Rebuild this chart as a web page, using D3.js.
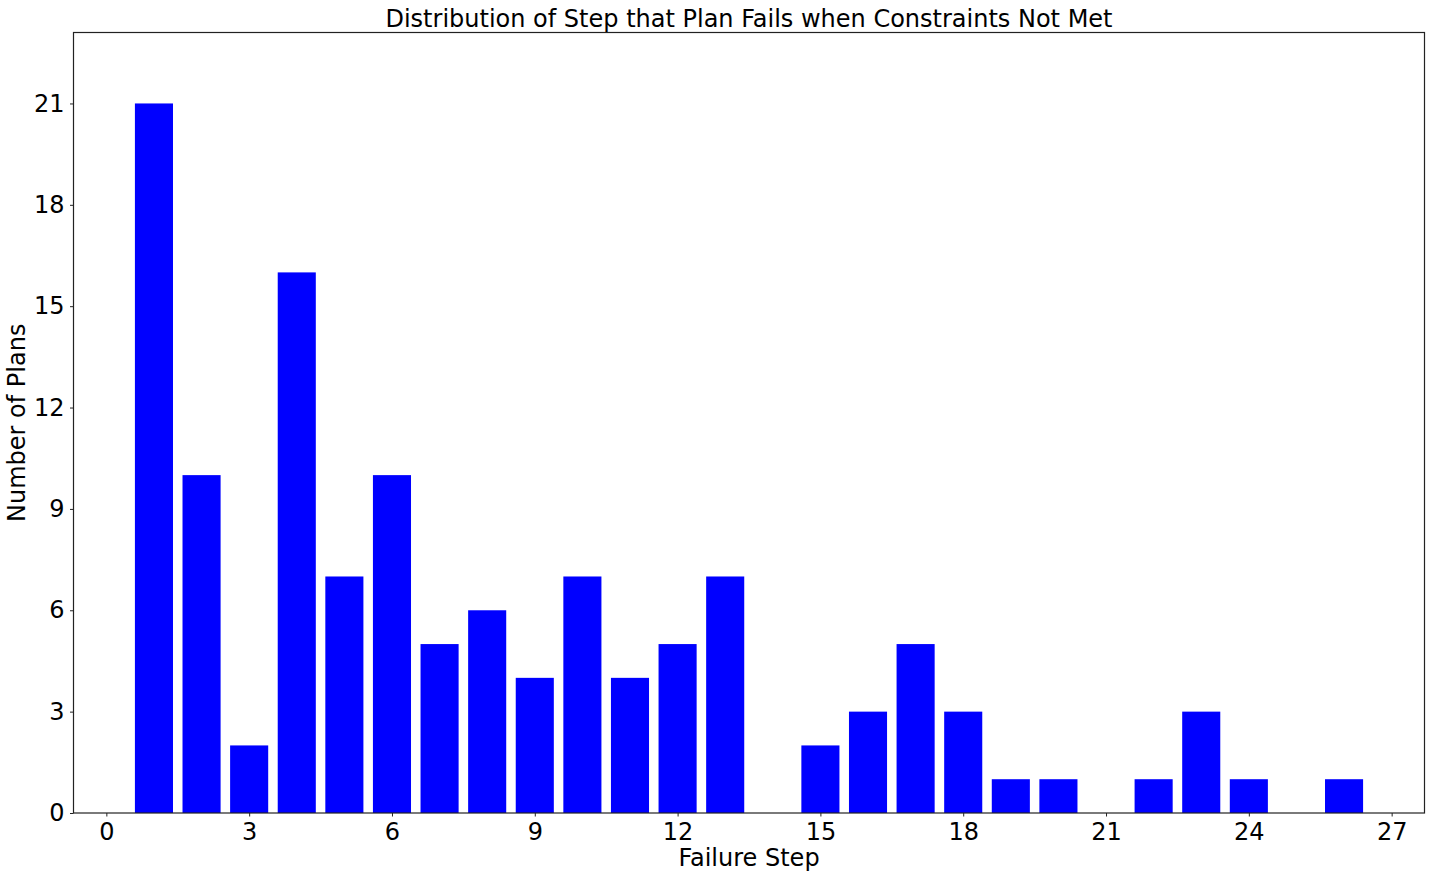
<!DOCTYPE html>
<html>
<head>
<meta charset="utf-8">
<script src="https://cdn.jsdelivr.net/npm/d3@7"></script>
<style>
  body { margin: 0; background: #fff; }
  text { font-family: "DejaVu Sans", sans-serif; }
</style>
</head>
<body>
<div id="chart"></div>
<script>
// failure step -> number of plans
const steps = [1, 2, 3, 4, 5, 6, 7, 8, 9, 10, 11, 12, 13, 14, 15, 16, 17, 18, 19, 20, 21, 22, 23, 24, 25, 26];
const counts = [21, 10, 2, 16, 7, 10, 5, 6, 4, 7, 4, 5, 7, 0, 2, 3, 5, 3, 1, 1, 0, 1, 3, 1, 0, 1];
const xTicks = [0, 3, 6, 9, 12, 15, 18, 21, 24, 27];
const yTicks = [0, 3, 6, 9, 12, 15, 18, 21];

const w = 1431, h = 879;
const margin = { left: 73.5, right: 6.5, top: 32.5, bottom: 66 };
const barWidth = 0.8;
const fontSize = "24px";

const svg = d3.select("#chart").append("svg")
  .attr("width", w)
  .attr("height", h)
  .style("display", "block");

// matplotlib-like 5% margins around the bars
const lo = steps[0] - barWidth / 2, hi = steps[steps.length - 1] + barWidth / 2;
const pad = (hi - lo) * 0.05;
const x = d3.scaleLinear()
  .domain([lo - pad, hi + pad])
  .range([margin.left, w - margin.right]);

const y = d3.scaleLinear()
  .domain([0, d3.max(counts) * 1.1])
  .range([h - margin.bottom, margin.top]);

// bars
svg.append("g")
  .selectAll("rect")
  .data(steps.map((s, i) => ({ s, c: counts[i] })))
  .join("rect")
  .attr("x", d => x(d.s - barWidth / 2))
  .attr("width", d => x(d.s + barWidth / 2) - x(d.s - barWidth / 2))
  .attr("y", d => y(d.c))
  .attr("height", d => y(0) - y(d.c))
  .attr("fill", "#0000ff");

// axes
const xAxis = svg.append("g")
  .attr("transform", `translate(0,${h - margin.bottom})`)
  .call(d3.axisBottom(x).tickValues(xTicks).tickSize(3.5).tickPadding(6).tickSizeOuter(0));

const yAxis = svg.append("g")
  .attr("transform", `translate(${margin.left},0)`)
  .call(d3.axisLeft(y).tickValues(yTicks).tickSize(3.5).tickPadding(5.5).tickSizeOuter(0));

[xAxis, yAxis].forEach(g => {
  g.select(".domain").remove();
  g.selectAll("line").attr("stroke", "#222").attr("stroke-width", 1);
  g.selectAll("text")
    .style("font-family", "DejaVu Sans")
    .style("font-size", fontSize)
    .attr("fill", "#000");
});

// frame
svg.append("rect")
  .attr("x", margin.left)
  .attr("y", margin.top)
  .attr("width", w - margin.left - margin.right)
  .attr("height", h - margin.top - margin.bottom)
  .attr("fill", "none")
  .attr("stroke", "#222")
  .attr("stroke-width", 1.2);

// Title
svg.append("text")
  .attr("x", (margin.left + w - margin.right) / 2)
  .attr("y", 27)
  .attr("text-anchor", "middle")
  .style("font-size", fontSize)
  .text("Distribution of Step that Plan Fails when Constraints Not Met");

// Axis labels
svg.append("text")
  .attr("x", (margin.left + w - margin.right) / 2)
  .attr("y", 866)
  .attr("text-anchor", "middle")
  .style("font-size", fontSize)
  .text("Failure Step");

svg.append("text")
  .attr("transform", `translate(25,${(margin.top + h - margin.bottom) / 2}) rotate(-90)`)
  .attr("text-anchor", "middle")
  .style("font-size", fontSize)
  .text("Number of Plans");
</script>
</body>
</html>
